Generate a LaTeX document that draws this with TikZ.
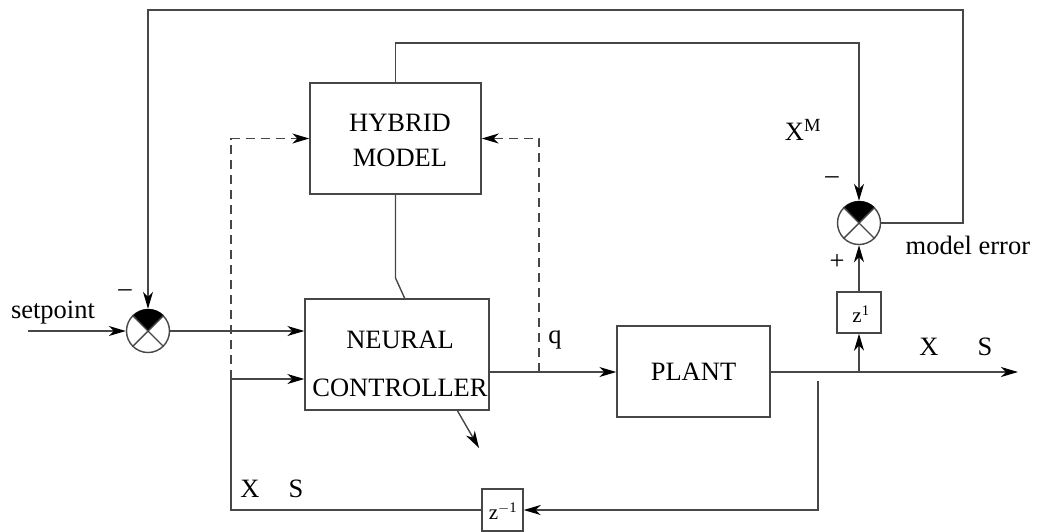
\documentclass[tikz,border=0pt]{standalone}
\usepackage{fontspec}
\setmainfont{Liberation Serif}
\usetikzlibrary{arrows.meta}
\begin{document}
\begin{tikzpicture}[x=1pt,y=-1pt,
  line width=1.4pt,
  ln/.style={draw=black!72, line width=1.4pt},
  arr/.style={ln, -{Stealth[length=17pt,width=10pt,inset=5pt,black]}},
  dsh/.style={dash pattern=on 9pt off 6pt},
  blk/.style={ln, rectangle, inner sep=0pt, fill=white},
  sumj/.style={ln, circle, minimum size=43pt, inner sep=0pt},
  txt/.style={font=\fontsize{26.5}{30}\selectfont, inner sep=0pt, text=black},
  ztxt/.style={font=\fontsize{21}{24}\selectfont, inner sep=0pt, text=black}
]
\useasboundingbox (0,0) rectangle (1040,531);

% blocks
\node[blk, minimum width=171pt, minimum height=111pt] (hm) at (395.5,138.5) {};
\node[txt, align=center, font=\fontsize{26.5}{35}\selectfont] (hmt) at (400,140) {HYBRID\\MODEL};
\node[blk, minimum width=184pt, minimum height=111pt] (nc) at (397,354.5) {};
\node[txt, align=center, font=\fontsize{26.5}{48}\selectfont] (nct) at (400,364) {NEURAL\\CONTROLLER};
\node[blk, minimum width=153pt, minimum height=91pt, txt] (pl) at (693.5,371.5) {PLANT};
\node[blk, minimum width=44pt, minimum height=41pt] (z1) at (859,312.5) {};
\node[ztxt] (z1t) at (861,314) {z\textsuperscript{1}};
\node[blk, minimum width=41pt, minimum height=42pt] (z2) at (502.5,510) {};
\node[ztxt] (z2t) at (503,511) {z\textsuperscript{$-$1}};

% summing junctions
\node[sumj] (s1) at (148,331) {};
\node[sumj] (s2) at (859,223) {};
\foreach \s in {s1,s2}{
  \fill[black] (\s.center) -- (\s.45) arc[start angle=45,end angle=135,radius=21.5pt] -- cycle;
  \draw[ln] (\s.45) -- (\s.225);
  \draw[ln] (\s.135) -- (\s.315);
}

% coordinates
\coordinate (sp) at (28,331);
\coordinate (b1) at (231,379);
\coordinate (c1) at (231,510);
\coordinate (fb1) at (818,381);
\coordinate (fb2) at (818,510);
\coordinate (q1) at (539,372);
\coordinate (out) at (1018,372);
\coordinate (b2) at (859,372);
\coordinate (k1) at (395.5,278);
\coordinate (k2) at (405,299);
\coordinate (t1) at (395.5,43);
\coordinate (t2) at (859,43);
\coordinate (o1) at (963,223);
\coordinate (o2) at (963,10);
\coordinate (o3) at (148,10);
\coordinate (da1) at (457,410);
\coordinate (da2) at (479,448);

% connectors
\draw[arr] (sp) -- (s1.west);
\draw[arr] (s1.east) -- (s1.east -| nc.west);
\draw[arr] (b1) -- (b1 -| nc.west);
\draw[ln] (z2.west) -- (c1) -- (b1);
\draw[arr, dsh] (b1) -- (b1 |- hm.west) -- (hm.west);
\draw[arr] (nc.east |- q1) -- (pl.west |- q1);
\draw[arr, dsh] (q1) -- (q1 |- hm.east) -- (hm.east);
\draw[arr] (pl.east |- out) -- (out);
\draw[arr] (b2) -- (z1.south);
\draw[arr] (z1.north) -- (s2.south);
\draw[arr] (fb1) -- (fb2) -- (z2.east);
\draw[ln] (hm.south) -- (k1) -- (k2);
\draw[arr] (hm.north) -- (t1) -- (t2) -- (s2.north);
\draw[arr] (s2.east) -- (o1) -- (o2) -- (o3) -- (s1.north);
\draw[arr] (da1) -- (da2);

% labels
\node[txt] (lsp) at (53,313) {setpoint};
\node[txt] (lm1) at (125,293) {\textendash};
\node[txt] (lm2) at (832,180) {\textendash};
\node[txt] (lp) at (837,262) {+};
\node[txt] (lxm) at (803,130) {X\textsuperscript{M}};
\node[txt, anchor=west] (lme) at (905,245) {model error};
\node[txt] (lq) at (555,340) {q};
\node[txt] (lx1) at (929,347) {X};
\node[txt] (ls1) at (985,347) {S};
\node[txt] (lx2) at (250,489) {X};
\node[txt] (ls2) at (296,489) {S};
\end{tikzpicture}
\end{document}
